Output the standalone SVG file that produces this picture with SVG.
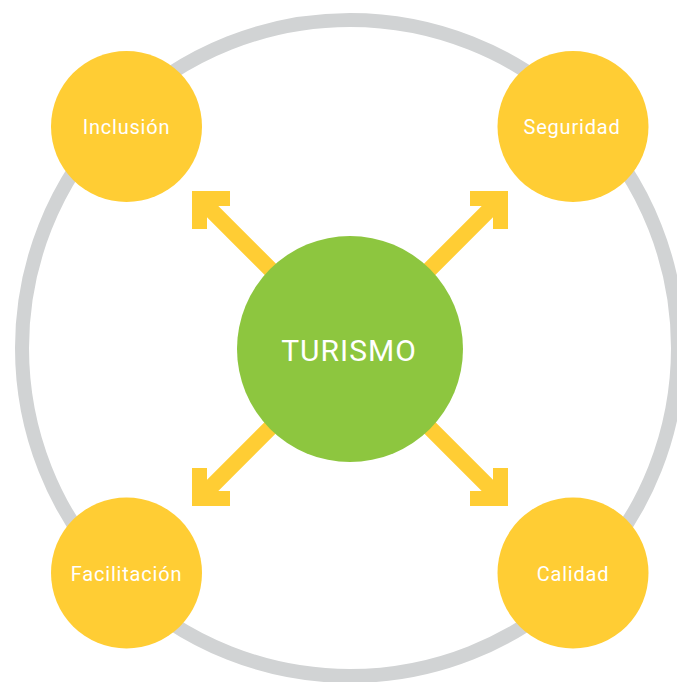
<svg xmlns="http://www.w3.org/2000/svg" xmlns:xlink="http://www.w3.org/1999/xlink" width="677" height="682" viewBox="0 0 677 682">
<style>
.ring{fill:none;stroke:#D1D3D4;stroke-width:14}
.yel{fill:#FFCD34}
.grn{fill:#8DC63F}
.arrow{fill:#FFCD34}
.lbl{font-family:Roboto,"Liberation Sans",sans-serif;font-weight:400;font-size:20px;fill:#FFFFFF;text-anchor:middle;letter-spacing:0.8px}
.main{font-family:Roboto,"Liberation Sans",sans-serif;font-weight:400;font-size:30px;fill:#FFFFFF;text-anchor:middle;letter-spacing:1px}
</style>
<defs>
<path id="arr" d="M0,0 L38,0 L38,15 L26.3,15 L110,98.7 L98.7,110 L15,26.3 L15,38 L0,38 Z"/>
</defs>
<rect width="677" height="682" fill="#FFFFFF"/>
<g id="ring"><circle class="ring" cx="350" cy="348" r="328"/></g>
<g id="connectors" class="arrow">
<use xlink:href="#arr" transform="translate(192,191)"/>
<use xlink:href="#arr" transform="translate(508,191) scale(-1,1)"/>
<use xlink:href="#arr" transform="translate(192,506) scale(1,-1)"/>
<use xlink:href="#arr" transform="translate(508,506) scale(-1,-1)"/>
</g>
<g id="turismo"><circle class="grn" cx="350" cy="349" r="113"/><text class="main" x="349" y="361">TURISMO</text></g>
<g id="inclusion"><circle class="yel" cx="126.5" cy="126.5" r="75.5"/><text class="lbl" x="126.5" y="134">Inclusión</text></g>
<g id="seguridad"><circle class="yel" cx="573" cy="126.5" r="75.5"/><text class="lbl" x="572" y="134">Seguridad</text></g>
<g id="facilitacion"><circle class="yel" cx="126.5" cy="573" r="75.5"/><text class="lbl" x="126.5" y="581">Facilitación</text></g>
<g id="calidad"><circle class="yel" cx="573" cy="573" r="75.5"/><text class="lbl" x="573" y="581">Calidad</text></g>
</svg>
